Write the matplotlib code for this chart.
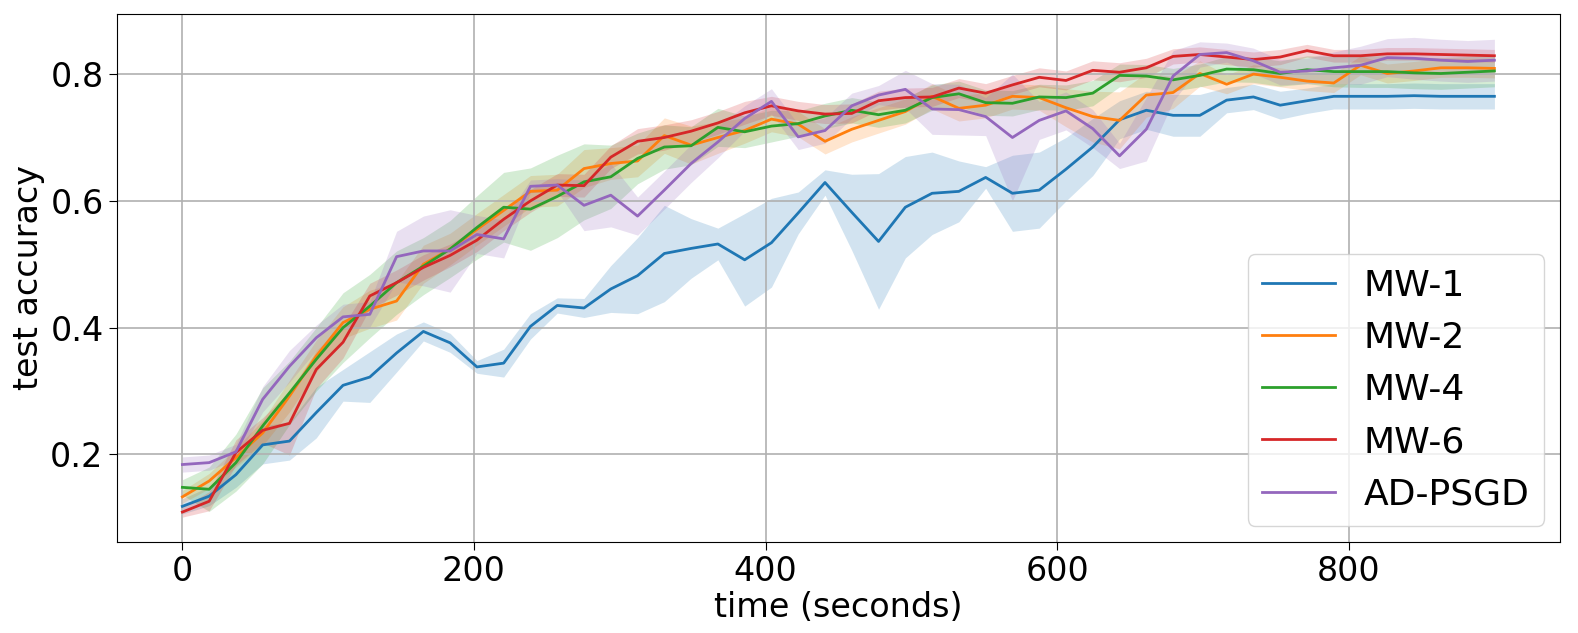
import numpy as np
import matplotlib
matplotlib.use("Agg")
import matplotlib.pyplot as plt

time = np.linspace(0, 900, 50)

labels = ["MW-1", "MW-2", "MW-4", "MW-6", "AD-PSGD"]

mw1_mean = [0.118, 0.134, 0.168, 0.215, 0.221, 0.266, 0.309, 0.322, 0.360, 0.394,
            0.376, 0.338, 0.344, 0.402, 0.435, 0.431, 0.461, 0.482, 0.517, 0.525,
            0.532, 0.507, 0.534, 0.581, 0.629, 0.582, 0.536, 0.590, 0.612, 0.615,
            0.637, 0.612, 0.617, 0.650, 0.685, 0.728, 0.743, 0.735, 0.735, 0.759,
            0.764, 0.751, 0.758, 0.765, 0.765, 0.765, 0.766, 0.765, 0.765, 0.765]
mw1_std = [0.012, 0.015, 0.020, 0.030, 0.030, 0.040, 0.025, 0.040, 0.030, 0.015,
           0.015, 0.010, 0.022, 0.020, 0.012, 0.015, 0.037, 0.060, 0.076, 0.047,
           0.025, 0.073, 0.070, 0.033, 0.020, 0.060, 0.107, 0.080, 0.065, 0.048,
           0.017, 0.060, 0.060, 0.050, 0.045, 0.030, 0.030, 0.033, 0.033, 0.020,
           0.020, 0.022, 0.020, 0.020, 0.020, 0.020, 0.020, 0.020, 0.020, 0.020]

mw2_mean = [0.133, 0.158, 0.195, 0.234, 0.292, 0.355, 0.408, 0.429, 0.442, 0.500,
            0.524, 0.555, 0.585, 0.615, 0.617, 0.651, 0.659, 0.663, 0.703, 0.688,
            0.700, 0.711, 0.729, 0.721, 0.694, 0.713, 0.727, 0.741, 0.765, 0.746,
            0.751, 0.765, 0.763, 0.747, 0.733, 0.727, 0.767, 0.771, 0.801, 0.784,
            0.800, 0.795, 0.789, 0.786, 0.814, 0.801, 0.805, 0.810, 0.810, 0.809]
mw2_std = [0.010, 0.012, 0.015, 0.020, 0.025, 0.025, 0.025, 0.030, 0.030, 0.030,
           0.025, 0.025, 0.025, 0.025, 0.025, 0.030, 0.025, 0.025, 0.028, 0.030,
           0.025, 0.020, 0.020, 0.020, 0.020, 0.020, 0.020, 0.020, 0.020, 0.020,
           0.020, 0.020, 0.020, 0.030, 0.040, 0.045, 0.035, 0.025, 0.020, 0.015,
           0.015, 0.015, 0.015, 0.015, 0.015, 0.015, 0.015, 0.015, 0.015, 0.015]

mw4_mean = [0.148, 0.145, 0.187, 0.245, 0.297, 0.350, 0.400, 0.434, 0.471, 0.497,
            0.524, 0.558, 0.590, 0.587, 0.607, 0.630, 0.638, 0.667, 0.685, 0.687,
            0.716, 0.709, 0.718, 0.722, 0.734, 0.743, 0.736, 0.743, 0.763, 0.769,
            0.755, 0.754, 0.764, 0.763, 0.770, 0.798, 0.797, 0.791, 0.798, 0.808,
            0.807, 0.801, 0.807, 0.804, 0.804, 0.804, 0.802, 0.801, 0.803, 0.805]
mw4_std = [0.012, 0.035, 0.045, 0.060, 0.050, 0.050, 0.055, 0.050, 0.050, 0.045,
           0.045, 0.050, 0.055, 0.065, 0.065, 0.060, 0.050, 0.040, 0.035, 0.030,
           0.030, 0.025, 0.025, 0.020, 0.020, 0.020, 0.020, 0.020, 0.020, 0.020,
           0.020, 0.020, 0.020, 0.020, 0.020, 0.018, 0.018, 0.018, 0.018, 0.020,
           0.020, 0.020, 0.022, 0.024, 0.025, 0.025, 0.025, 0.025, 0.025, 0.025]

mw6_mean = [0.109, 0.126, 0.203, 0.238, 0.249, 0.334, 0.377, 0.450, 0.471, 0.495,
            0.514, 0.538, 0.571, 0.600, 0.625, 0.624, 0.669, 0.694, 0.700, 0.710,
            0.723, 0.739, 0.750, 0.742, 0.737, 0.738, 0.758, 0.763, 0.764, 0.778,
            0.770, 0.783, 0.795, 0.790, 0.806, 0.803, 0.810, 0.828, 0.831, 0.827,
            0.823, 0.827, 0.837, 0.829, 0.829, 0.832, 0.832, 0.831, 0.830, 0.829]
mw6_std = [0.008, 0.015, 0.020, 0.020, 0.050, 0.030, 0.025, 0.020, 0.020, 0.020,
           0.018, 0.018, 0.018, 0.018, 0.018, 0.018, 0.018, 0.020, 0.020, 0.018,
           0.018, 0.018, 0.015, 0.015, 0.015, 0.015, 0.015, 0.015, 0.015, 0.015,
           0.015, 0.015, 0.015, 0.015, 0.015, 0.015, 0.015, 0.012, 0.012, 0.012,
           0.012, 0.012, 0.010, 0.010, 0.010, 0.010, 0.010, 0.010, 0.010, 0.010]

ad_mean = [0.184, 0.187, 0.204, 0.287, 0.339, 0.384, 0.417, 0.421, 0.512, 0.521,
           0.521, 0.547, 0.540, 0.623, 0.625, 0.593, 0.609, 0.576, 0.617, 0.659,
           0.693, 0.730, 0.757, 0.701, 0.711, 0.750, 0.767, 0.776, 0.745, 0.744,
           0.733, 0.700, 0.727, 0.742, 0.714, 0.671, 0.713, 0.797, 0.831, 0.834,
           0.821, 0.803, 0.805, 0.810, 0.814, 0.826, 0.825, 0.822, 0.820, 0.822]
ad_std = [0.012, 0.012, 0.012, 0.020, 0.025, 0.020, 0.020, 0.020, 0.040, 0.055,
          0.065, 0.030, 0.030, 0.010, 0.010, 0.040, 0.050, 0.030, 0.030, 0.030,
          0.025, 0.020, 0.020, 0.020, 0.020, 0.020, 0.015, 0.030, 0.040, 0.040,
          0.030, 0.100, 0.030, 0.030, 0.030, 0.020, 0.050, 0.040, 0.020, 0.015,
          0.020, 0.020, 0.020, 0.025, 0.030, 0.030, 0.033, 0.033, 0.033, 0.033]

means = [mw1_mean, mw2_mean, mw4_mean, mw6_mean, ad_mean]
stds = [mw1_std, mw2_std, mw4_std, mw6_std, ad_std]
colors = ["#1f77b4", "#ff7f0e", "#2ca02c", "#d62728", "#9467bd"]

fig = plt.figure(figsize=(15.78, 6.33), dpi=100)
ax = fig.add_axes([0.074, 0.144, 0.9146, 0.834])

for lab, m, s, c in zip(labels, means, stds, colors):
    m = np.array(m)
    s = np.array(s)
    ax.plot(time, m, color=c, lw=2.0, label=lab)
    ax.fill_between(time, m - s, m + s, color=c, alpha=0.2, lw=0)

ax.set_xlim(-45, 945)
ax.set_ylim(0.062, 0.895)
ax.set_xticks([0, 200, 400, 600, 800])
ax.set_yticks([0.2, 0.4, 0.6, 0.8])
ax.grid(True, color="#b0b0b0", lw=1.2)
ax.tick_params(labelsize=24, length=6)
ax.set_xlabel("time (seconds)", fontsize=24, labelpad=2)
ax.set_ylabel("test accuracy", fontsize=24)
ax.legend(loc="lower right", fontsize=26, borderaxespad=0.45)

fig.savefig("out.png", dpi=100)
